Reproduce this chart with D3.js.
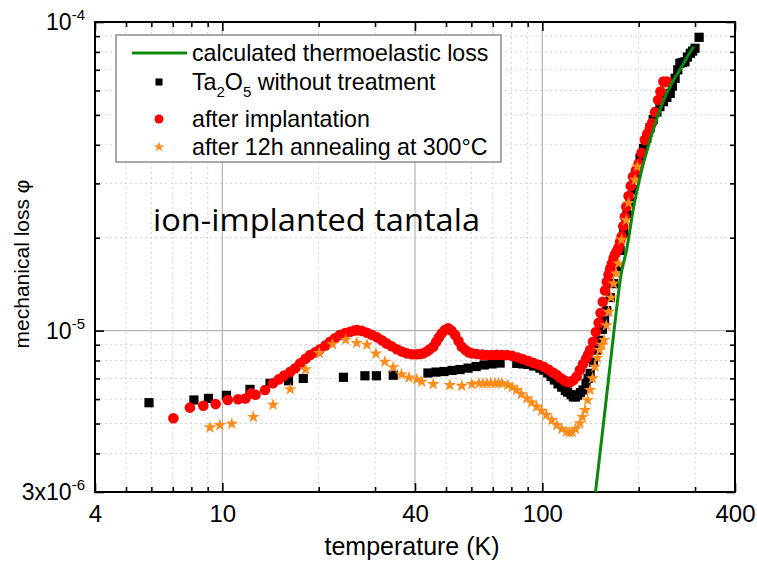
<!DOCTYPE html>
<html>
<head>
<meta charset="utf-8">
<script src="https://cdn.jsdelivr.net/npm/d3@7"></script>
<style>
  body { margin: 0; background: #fff; }
  svg { font-family: "Liberation Sans", Arial, sans-serif; }
</style>
</head>
<body>
<svg id="chart" width="757" height="570"></svg>
<script>
// mechanical loss values are in units of 1e-6
const majorT = [4, 10, 40, 100, 400];
const minorT = [5, 6, 7, 8, 9, 20, 30, 50, 60, 70, 80, 90, 200, 300];
const majorPhi = [3, 10, 100];
const minorPhi = [4, 5, 6, 7, 8, 9, 20, 30, 40, 50, 60, 70, 80, 90];
const phiLabels = [["3x10", "-6"], ["10", "-5"], ["10", "-4"]];

const seriesNames = [
  "calculated thermoelastic loss",
  "Ta2O5 without treatment",
  "after implantation",
  "after 12h annealing at 300°C"
];

// [temperature K, phi]
const thermoelastic = [
  [146.6, 3.0], [157, 5.53], [167.5, 10.0], [176, 15.1], [183.6, 18.4], [193, 25.2],
  [202, 31.5], [214, 39.4], [228, 48.7], [242, 57.3], [257, 64.9], [273, 71.7],
  [286, 78.2], [297, 83.2]
];

const untreated = [
  [5.9, 5.84], [8.15, 5.96], [9.05, 6.03], [10.3, 6.17], [12.2, 6.45], [14.1, 6.75],
  [16.1, 6.88], [17.9, 7.0], [23.9, 7.06], [27.9, 7.14], [30.3, 7.14], [34.2, 7.17],
  [43.9, 7.29], [46.5, 7.34], [49.3, 7.37], [52.2, 7.43], [55.3, 7.48], [58.6, 7.56],
  [62.1, 7.65], [65.8, 7.74], [69.7, 7.80], [73.8, 7.85],
  [83.2, 7.83], [87, 7.8], [90.2, 7.77], [94, 7.68], [98.3, 7.56], [101, 7.45],
  [104, 7.29], [106.5, 7.1], [109, 6.92], [112, 6.72], [115, 6.56], [118, 6.4],
  [120, 6.32], [123, 6.2], [125, 6.1], [127, 6.1], [129, 6.18], [131.5, 6.3],
  [134, 6.42], [137, 6.75], [139, 7.0], [141, 7.27], [144.5, 7.9], [148, 8.65],
  [151, 9.3], [154, 10.1], [156.5, 10.8], [159, 11.6], [163, 12.8], [167, 14.2],
  [171, 16.1], [175, 18.2], [179.5, 20.8], [184, 23.7], [188, 26], [192, 28.6],
  [197, 32.3], [202, 36.2], [207, 38.9], [212, 42], [217, 45.4], [222, 48.3],
  [228, 51.1], [233, 53.2], [239, 55.2], [245, 57], [251, 58.7], [255, 62],
  [260, 65.7], [265, 70], [269, 73.5], [274, 73.9], [279, 74.3], [284, 77],
  [290, 79.2], [295, 80.5], [300, 82.2], [309, 89.2]
];

const implanted = [
  [7.03, 5.2], [7.92, 5.63], [8.72, 5.71], [9.53, 5.78], [10.4, 5.96], [11.2, 5.99],
  [11.8, 6.03], [12.3, 6.26], [12.7, 6.2], [13.6, 6.42], [14.4, 6.75],
  [15.0, 6.95], [15.6, 7.15], [16.3, 7.36], [16.9, 7.55], [17.5, 7.83], [18.2, 8.1],
  [18.8, 8.34], [19.5, 8.5], [20.2, 8.7], [21.0, 8.95], [21.7, 9.2], [22.5, 9.45],
  [23.3, 9.68], [24.2, 9.82], [25.1, 9.92], [25.8, 10.0], [26.4, 10.04], [27.3, 9.98],
  [28.3, 9.84], [29.3, 9.7], [30.4, 9.51], [31.5, 9.3], [32.6, 9.09], [33.8, 8.9],
  [35.1, 8.7], [36.4, 8.55], [37.7, 8.44], [39.1, 8.38], [40.5, 8.38], [41.5, 8.4],
  [42.5, 8.44], [43.5, 8.55], [44.5, 8.7], [45.6, 8.87], [46.6, 9.2], [47.5, 9.5],
  [48.5, 9.8], [49.6, 10.05], [50.8, 10.17], [52.0, 10.0], [53.4, 9.68], [54.7, 9.25],
  [56.0, 8.87], [57.5, 8.65], [59.0, 8.5], [60.2, 8.44], [62.5, 8.4], [64.8, 8.36],
  [67.0, 8.34], [69.5, 8.34], [72.0, 8.35], [74.7, 8.34], [77.4, 8.34], [80.5, 8.28],
  [83.8, 8.18], [87.1, 8.07], [90.5, 7.97], [94, 7.85], [97.5, 7.75], [101, 7.64],
  [104.5, 7.48], [108, 7.32], [111, 7.18], [114, 7.02], [117, 6.9], [119, 6.83],
  [122, 6.8], [125, 6.9], [128, 7.1], [131, 7.45], [134, 7.8], [137, 8.1],
  [139, 8.35], [141, 8.65], [144, 9.2], [147, 9.9], [150, 10.6], [152, 11.4],
  [154.5, 12.4], [157, 13.5], [159, 14.4], [161, 15.2], [163, 15.9], [165, 16.5],
  [167, 17.2], [169, 17.7], [171, 18.1], [173, 18.6], [175, 19.4], [177, 20.2],
  [179, 21.8], [181, 23.4], [183, 25.2], [186, 27.3], [189, 29.4], [192, 31.5],
  [196, 33.0], [200, 34.8], [204, 37.6], [209, 41.5], [213, 43.5], [217, 45.5],
  [220, 47], [225, 51], [230, 55.9], [234, 59.5], [239, 64.1], [242, 63.8], [245, 64.1]
];

const annealed = [
  [9.15, 4.86], [9.82, 4.94], [10.7, 4.99], [12.5, 5.25], [14.4, 5.75], [16.3, 6.46],
  [18.2, 7.49], [20.1, 8.46], [22.1, 9.03], [24.3, 9.34], [26.3, 9.12], [28.3, 9.0],
  [30.2, 8.42], [32.2, 7.93], [34.2, 7.61], [36.3, 7.21], [38.3, 7.05], [40.5, 6.95],
  [42.0, 6.83], [45.6, 6.71], [51.4, 6.66], [56, 6.62], [60.2, 6.71], [63.4, 6.75],
  [65.2, 6.75], [67.1, 6.75], [69, 6.76], [71.1, 6.76], [72.9, 6.76], [74.8, 6.75],
  [78.1, 6.66], [80.5, 6.55], [83.2, 6.42], [86, 6.22], [89.4, 6.03], [92.5, 5.85],
  [96, 5.67], [99.5, 5.5], [103, 5.33], [107, 5.13], [111, 4.94], [115, 4.8],
  [119, 4.7], [121.5, 4.68], [124, 4.69], [127, 4.8], [131, 5.01], [133.5, 5.25],
  [136, 5.53], [138.5, 5.95], [141, 6.42], [143.5, 7.0], [146, 7.64], [148.5, 8.15],
  [151, 8.65], [153.5, 9.0], [156, 9.32], [158.5, 10.4], [161, 11.5], [164, 12.8],
  [167, 14.2], [170, 15.3], [173, 16.5], [177, 19.7], [183, 22.8], [186, 25.9],
  [195, 30.8], [198, 34]
];

const margin = { top: 22, right: 22, bottom: 78, left: 95 };
const W = 757, H = 570;
const width = W - margin.left - margin.right;
const height = H - margin.top - margin.bottom;

const svg = d3.select('#chart');

const xScale = d3.scaleLog().domain([4, 400]).range([0, width]);
const yScale = d3.scaleLog().domain([3, 100]).range([height, 0]);

const chart = svg.append('g')
    .attr('transform', `translate(${margin.left},${margin.top})`);

// grid
const grid = chart.append('g').attr('class', 'grid');
grid.selectAll('.vminor').data(minorT).join('line')
    .attr('x1', d => xScale(d)).attr('x2', d => xScale(d))
    .attr('y1', 0).attr('y2', height)
    .attr('stroke', '#d2d2d2').attr('stroke-dasharray', '2,3');
grid.selectAll('.hminor').data(minorPhi).join('line')
    .attr('y1', d => yScale(d)).attr('y2', d => yScale(d))
    .attr('x1', 0).attr('x2', width)
    .attr('stroke', '#d2d2d2').attr('stroke-dasharray', '2,3');
grid.selectAll('.vmajor').data(majorT.slice(1, -1)).join('line')
    .attr('x1', d => xScale(d)).attr('x2', d => xScale(d))
    .attr('y1', 0).attr('y2', height)
    .attr('stroke', '#b4b4b4').attr('stroke-width', 1.2);
grid.selectAll('.hmajor').data(majorPhi.slice(1, -1)).join('line')
    .attr('y1', d => yScale(d)).attr('y2', d => yScale(d))
    .attr('x1', 0).attr('x2', width)
    .attr('stroke', '#b4b4b4').attr('stroke-width', 1.2);

// axes (ticks pointing inward)
function addAxis(axis, tx, ty) {
  const g = chart.append('g')
      .attr('transform', `translate(${tx},${ty})`)
      .call(axis);
  g.select('.domain').remove();
  g.selectAll('.tick line').attr('stroke', '#000').attr('stroke-width', 1.6);
  return g;
}

const xAxisG = addAxis(d3.axisBottom(xScale).tickValues(majorT).tickSizeInner(-9)
    .tickSizeOuter(0).tickPadding(13).tickFormat(d3.format('d')), 0, height);
xAxisG.selectAll('text').attr('font-size', 24).attr('fill', '#000')
    .attr('font-family', '"Liberation Sans", Arial, sans-serif');
addAxis(d3.axisBottom(xScale).tickValues(minorT).tickSizeInner(-5).tickSizeOuter(0).tickFormat(''), 0, height);
addAxis(d3.axisTop(xScale).tickValues(majorT).tickSizeInner(-9).tickSizeOuter(0).tickFormat(''), 0, 0);
addAxis(d3.axisTop(xScale).tickValues(minorT).tickSizeInner(-5).tickSizeOuter(0).tickFormat(''), 0, 0);
addAxis(d3.axisLeft(yScale).tickValues(majorPhi).tickSizeInner(-9).tickSizeOuter(0).tickFormat(''), 0, 0);
addAxis(d3.axisLeft(yScale).tickValues(minorPhi).tickSizeInner(-5).tickSizeOuter(0).tickFormat(''), 0, 0);
addAxis(d3.axisRight(yScale).tickValues(majorPhi).tickSizeInner(-9).tickSizeOuter(0).tickFormat(''), width, 0);
addAxis(d3.axisRight(yScale).tickValues(minorPhi).tickSizeInner(-5).tickSizeOuter(0).tickFormat(''), width, 0);

// y tick labels with superscripts
const yLab = chart.append('g').selectAll('text')
    .data(majorPhi).join('text')
    .attr('x', -10)
    .attr('y', d => yScale(d) + 8)
    .attr('text-anchor', 'end')
    .attr('font-size', 23);
yLab.append('tspan').text((d, i) => phiLabels[i][0]);
yLab.append('tspan').attr('dy', -10).attr('font-size', 15).text((d, i) => phiLabels[i][1]);

// frame
chart.append('rect')
    .attr('width', width).attr('height', height)
    .attr('fill', 'none').attr('stroke', '#000').attr('stroke-width', 2);

// axis titles
chart.append('text')
    .attr('x', width / 2 - 3)
    .attr('y', height + 63)
    .attr('text-anchor', 'middle')
    .attr('font-size', 25)
    .text('temperature (K)');

svg.append('text')
    .attr('transform', `translate(29,${margin.top + 242}) rotate(-90)`)
    .attr('text-anchor', 'middle')
    .attr('font-size', 21)
    .text('mechanical loss φ');

// data marks
chart.append('clipPath').attr('id', 'clip')
  .append('rect').attr('width', width).attr('height', height);
const marks = chart.append('g').attr('clip-path', 'url(#clip)');

const square = d3.symbol().type(d3.symbolSquare).size(85);
const star = d3.symbol().type(d3.symbolStar).size(50);

marks.append('g').selectAll('path')
    .data(untreated).join('path')
    .attr('transform', d => `translate(${xScale(d[0])},${yScale(d[1])})`)
    .attr('d', square)
    .attr('fill', '#000');

marks.append('g').selectAll('circle')
    .data(implanted).join('circle')
    .attr('cx', d => xScale(d[0]))
    .attr('cy', d => yScale(d[1]))
    .attr('r', 5.3)
    .attr('fill', '#ff0000');

marks.append('g').selectAll('path')
    .data(annealed).join('path')
    .attr('transform', d => `translate(${xScale(d[0])},${yScale(d[1])})`)
    .attr('d', star)
    .attr('fill', '#ff8c1a');

const line = d3.line()
    .x(d => xScale(d[0]))
    .y(d => yScale(d[1]))
    .curve(d3.curveMonotoneX);

marks.append('path')
    .datum(thermoelastic)
    .attr('d', line)
    .attr('fill', 'none')
    .attr('stroke', '#0a8a0a')
    .attr('stroke-width', 3);

// big label
svg.append('text')
    .attr('x', 153)
    .attr('y', 231)
    .attr('font-family', '"Open Sans", "Noto Sans", sans-serif')
    .attr('font-size', 31)
    .attr('textLength', 327)
    .attr('lengthAdjust', 'spacingAndGlyphs')
    .text('ion-implanted tantala');

// legend
const legend = svg.append('g').attr('transform', 'translate(116,35)');
legend.append('rect')
    .attr('width', 385).attr('height', 127)
    .attr('fill', '#fff').attr('stroke', '#8c8c8c').attr('stroke-width', 1.5);

const rowY = [18, 47, 84, 112];
const legendText = legend.selectAll('.ltext')
    .data(seriesNames).join('text')
    .attr('class', 'ltext')
    .attr('x', 76)
    .attr('y', (d, i) => rowY[i] + 8)
    .attr('font-size', 23.2);

legendText.each(function(d, i) {
  const t = d3.select(this);
  if (i === 1) {
    t.append('tspan').text('Ta');
    t.append('tspan').attr('dy', 7).attr('font-size', 15).text('2');
    t.append('tspan').attr('dy', -7).text('O');
    t.append('tspan').attr('dy', 7).attr('font-size', 15).text('5');
    t.append('tspan').attr('dy', -7).text(' without treatment');
  } else {
    t.text(d);
  }
});

legend.append('line')
    .attr('x1', 16).attr('x2', 71)
    .attr('y1', rowY[0]).attr('y2', rowY[0])
    .attr('stroke', '#0a8a0a').attr('stroke-width', 3);
legend.append('path')
    .attr('transform', `translate(43,${rowY[1]})`)
    .attr('d', d3.symbol().type(d3.symbolSquare).size(50))
    .attr('fill', '#000');
legend.append('circle')
    .attr('cx', 43).attr('cy', rowY[2]).attr('r', 4.5)
    .attr('fill', '#ff0000');
legend.append('path')
    .attr('transform', `translate(43,${rowY[3]})`)
    .attr('d', d3.symbol().type(d3.symbolStar).size(34))
    .attr('fill', '#ff8c1a');
</script>
</body>
</html>
